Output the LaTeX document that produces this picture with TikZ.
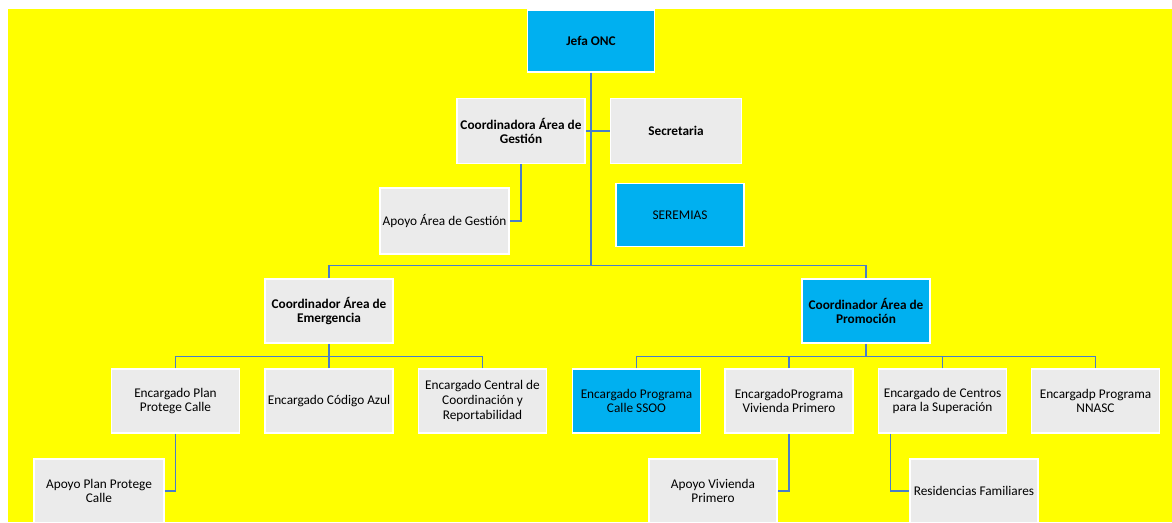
\documentclass[tikz,border=0pt]{standalone}
\usepackage{fontspec}
\setmainfont{Carlito}
\definecolor{bgyellow}{HTML}{FFFF00}
\definecolor{boxgray}{HTML}{EBEBEB}
\definecolor{boxcyan}{HTML}{00B0F0}
\definecolor{linkblue}{HTML}{4A7EC8}
\tikzset{
  orgbox/.style={draw=white, line width=1.6pt, fill=boxgray, minimum width=128pt, minimum height=64pt,
    align=center, inner sep=1pt, font=\fontsize{13.3}{14.7}\selectfont, text=black},
  cyanbox/.style={orgbox, fill=boxcyan},
  boldtext/.style={font=\fontsize{13.3}{14.7}\selectfont\bfseries},
  link/.style={draw=linkblue, line width=1.3pt}
}
\begin{document}
\begin{tikzpicture}[x=1pt,y=1pt]
\useasboundingbox (0,0) rectangle (1172,-522);
\clip (0,0) rectangle (1172,-522);
\fill[white] (0,0) rectangle (1172,-522);
\fill[bgyellow] (8,-9) rectangle (1172,-522);

% level 0/1
\node[cyanbox, boldtext, minimum width=127pt, minimum height=62pt] (jefa) at (591,-41) {Jefa ONC};
\node[orgbox, boldtext, minimum height=65pt] (gestion) at (521,-131) {Coordinadora Área de\\Gestión};
\node[orgbox, boldtext, minimum width=131pt, minimum height=65pt] (secretaria) at (676,-131) {Secretaria};
\node[cyanbox, minimum height=63pt] (seremias) at (680,-215) {SEREMIAS};
\node[orgbox, minimum width=129pt, minimum height=66pt] (apoyogestion) at (444.5,-221) {Apoyo Área de Gestión};

% level 2
\node[orgbox, boldtext] (emergencia) at (329,-311) {Coordinador Área de\\Emergencia};
\node[cyanbox, boldtext] (promocion) at (866,-311) {Coordinador Área de\\Promoción};

% level 3
\node[orgbox] (plan) at (175.5,-401) {Encargado Plan\\Protege Calle};
\node[orgbox] (azul) at (329,-401) {Encargado Código Azul};
\node[orgbox] (central) at (482.5,-401) {Encargado Central de\\Coordinación y\\Reportabilidad};
\node[cyanbox] (ssoo) at (636.5,-401) {Encargado Programa\\Calle SSOO};
\node[orgbox] (vivienda) at (789,-401) {EncargadoPrograma\\Vivienda Primero};
\node[orgbox] (centros) at (942.5,-401) {Encargado de Centros\\para la Superación};
\node[orgbox] (nnasc) at (1095.5,-401) {Encargadp Programa\\NNASC};

% level 4
\node[orgbox, minimum width=130pt] (apoyoplan) at (99,-491) {Apoyo Plan Protege\\Calle};
\node[orgbox] (apoyovivienda) at (713,-491) {Apoyo Vivienda\\Primero};
\node[orgbox] (residencias) at (974,-491) {Residencias Familiares};

% bus coordinates
\coordinate (busA) at (0,-265.7);
\coordinate (busB) at (0,-356.7);

% connectors
\draw[link] (jefa.south) -- (jefa.south |- busA);
\draw[link] (emergencia.north) -- (emergencia.north |- busA) -| (promocion.north);
\draw[link] (gestion.east) -- (secretaria.west);
\draw[link] (gestion.south) |- (apoyogestion.east);

\draw[link] (emergencia.south) -- (emergencia.south |- busB);
\draw[link] (plan.north) -- (plan.north |- busB) -| (central.north);
\draw[link] (azul.north) -- (azul.north |- busB);

\draw[link] (promocion.south) -- (promocion.south |- busB);
\draw[link] (ssoo.north) -- (ssoo.north |- busB) -| (nnasc.north);
\draw[link] (vivienda.north) -- (vivienda.north |- busB);
\draw[link] (centros.north) -- (centros.north |- busB);

\draw[link] (plan.south) |- (apoyoplan.east);
\draw[link] (vivienda.south) |- (apoyovivienda.east);
\draw[link] ([xshift=13pt]centros.south west) |- (residencias.west);
\end{tikzpicture}
\end{document}
